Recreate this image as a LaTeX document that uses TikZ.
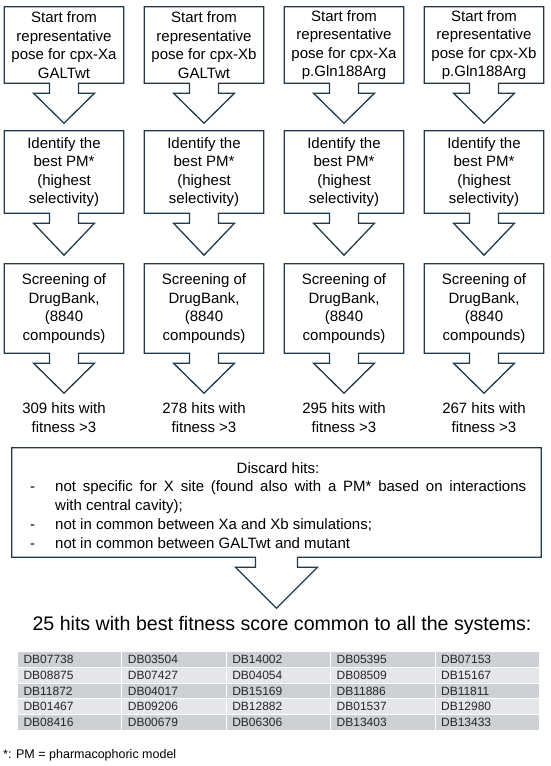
\documentclass[tikz,border=0pt]{standalone}
\usepackage{fontspec}
\setmainfont{Liberation Sans}
\usetikzlibrary{positioning}
\definecolor{outline color}{HTML}{1F3A4D}
\definecolor{row1}{HTML}{CDD1D6}
\definecolor{row0}{HTML}{E4E6EA}
\tikzset{arrowline/.style={draw=outline color, line width=1.3pt, line join=miter}}
\tikzset{stepbox/.style={minimum width=119pt, inner sep=0pt, align=center, font=\fontsize{15}{18.5}\selectfont}}
\tikzset{cell/.style={anchor=north west, draw=white, line width=1pt, text width=92.4pt, inner xsep=6pt, inner ysep=0pt, minimum height=15.8pt, align=left, text=black!85, font=\fontsize{12}{14}\selectfont}}
% box with a down arrow below it: node, stem half width, wing, head length
\newcommand{\downcallout}[4]{%
  \draw[arrowline] (#1.south west) -- (#1.north west) -- (#1.north east) -- (#1.south east)
    -- ([xshift=#2]#1.south) -- ++(0,10) -- ++(#3,0) -- ([yshift=-10-#4]#1.south)
    -- ([xshift=-#2-#3, yshift=-10]#1.south) -- ++(#3,0) -- ([xshift=-#2]#1.south) -- cycle;}

\begin{document}
\begin{tikzpicture}[x=1pt, y=-1pt]
  \useasboundingbox (0,0) rectangle (550,766);
  % the four systems
  \foreach \c/\cx/\cpx/\sys/\hits in {1/64/Xa/GALTwt/309, 2/204/Xb/GALTwt/278,
      3/344/Xa/p.Gln188Arg/295, 4/484/Xb/p.Gln188Arg/267} {
    \node[stepbox, minimum height=76pt] (start\c) at (\cx,45) {Start from\\representative\\pose for cpx-\cpx\\\sys};
    \downcallout{start\c}{14.5}{16}{30}
    \node[stepbox, minimum height=82pt] (best\c) at (\cx,172) {Identify the\\best PM*\\(highest\\selectivity)};
    \downcallout{best\c}{14.5}{16}{32}
    \node[stepbox, minimum height=89pt] (screen\c) at (\cx,308.5) {Screening of\\DrugBank,\\(8840\\compounds)};
    \downcallout{screen\c}{14.5}{16}{30}
    \node[stepbox, font=\fontsize{15}{19}\selectfont] (hits\c) at (\cx,417.5) {\hits{} hits with\\fitness >3};
  }
  % filter
  \node[minimum width=529pt, minimum height=109pt, inner sep=0pt] (discard) at (276.5,502.5) {};
  \downcallout{discard}{21}{20}{41}
  \node[font=\fontsize{15}{19}\selectfont] (discardtitle) at (278,468) {Discard hits:};
  \node[anchor=north west, text width=496pt, inner sep=0pt, align=justify, font=\fontsize{15}{19.3}\selectfont] (discardlist) at (30,480) {%
    \hangindent=25pt\hangafter=1\makebox[25pt][l]{-}not specific for X site (found also with a PM* based on interactions\linebreak with central cavity);\par
    \makebox[25pt][l]{-}not in common between Xa and Xb simulations;\par
    \makebox[25pt][l]{-}not in common between GALTwt and mutant\par};
  % result
  \node[font=\fontsize{19.6}{24}\selectfont] (result) at (282,625) {25 hits with best fitness score common to all the systems:};
  \foreach \ids [count=\r] in {{DB07738,DB03504,DB14002,DB05395,DB07153},
      {DB08875,DB07427,DB04054,DB08509,DB15167},
      {DB11872,DB04017,DB15169,DB11886,DB11811},
      {DB01467,DB09206,DB12882,DB01537,DB12980},
      {DB08416,DB00679,DB06306,DB13403,DB13433}} {
    \pgfmathtruncatemacro\odd{mod(\r,2)}
    \foreach \id [count=\k] in \ids {
      \node[cell, fill=row\odd] (cell\r\k) at ({17+(\k-1)*104.4}, {651+(\r-1)*15.8}) {\id};
    }
  }
  \node[anchor=west, inner sep=0pt, font=\fontsize{12.5}{15}\selectfont] (note) at (3,755) {*: PM = pharmacophoric model};
\end{tikzpicture}
\end{document}
